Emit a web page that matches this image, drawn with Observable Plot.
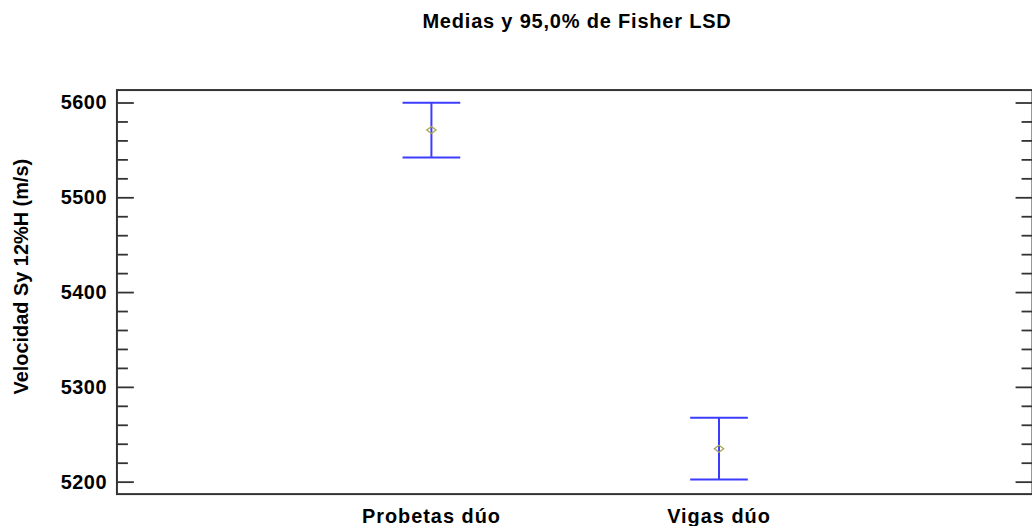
<!DOCTYPE html>
<html>
<head>
<meta charset="utf-8">
<script src="https://cdn.jsdelivr.net/npm/d3@7"></script>
<script src="https://cdn.jsdelivr.net/npm/@observablehq/plot@0.6"></script>
<style>
  html, body { margin: 0; padding: 0; overflow: hidden; background: #fff; }
  #wrap { position: relative; width: 1032px; height: 529px; overflow: hidden; }
  #title { position: absolute; left: 0; width: 1154px; top: 11px; text-align: center;
           font: bold 20px/20px "Liberation Sans", Arial, sans-serif; letter-spacing: 0.8px; color: #000; }
  #chart { position: absolute; left: 0; top: 0; }
  g[aria-label="x-axis tick label"] text { letter-spacing: 1px; }
  g[aria-label="y-axis tick label"] text { letter-spacing: 0.5px; }
</style>
</head>
<body>
<div id="wrap">
  <div id="chart"></div>
  <div id="title">Medias y 95,0% de Fisher LSD</div>
</div>
<script>
// ---- data ----
const title = "Medias y 95,0% de Fisher LSD";
const yLabel = "Velocidad Sy 12%H (m/s)";
const categories = ["Probetas dúo", "Vigas dúo"];
const means = [5571.5, 5235.3];
const lower = [5542.6, 5202.8];
const upper = [5600.3, 5267.9];
const yMajorTicks = [5200, 5300, 5400, 5500, 5600];
const yMinorTicks = [5220, 5240, 5260, 5280, 5320, 5340, 5360, 5380, 5420, 5440, 5460, 5480, 5520, 5540, 5560, 5580];

const rows = categories.map((c, i) => ({pos: i + 1, cat: c, mean: means[i], lo: lower[i], hi: upper[i]}));

// ---- custom symbols ----
const lineSym = (a, b) => ({draw(ctx) { ctx.moveTo(a, 0); ctx.lineTo(b, 0); }});
const capSym = lineSym(-29, 29);
const diamondSym = {draw(ctx) { ctx.moveTo(0, -3.5); ctx.lineTo(4.7, 0); ctx.lineTo(0, 3.5); ctx.lineTo(-4.7, 0); ctx.closePath(); }};

const blue = "#3c3cff";
const axisColor = "#333";
const tw = 1.8;

const chart = Plot.plot({
  width: 1037,
  height: 529,
  marginLeft: 117,
  marginRight: 0,
  marginTop: 90,
  marginBottom: 33,
  style: {fontFamily: "'Liberation Sans', Arial, sans-serif", background: "#fff", color: "#000"},
  x: {type: "linear", domain: [-0.0934, 3.09]},
  y: {domain: [5187.4, 5613.65]},
  marks: [
    Plot.frame({stroke: axisColor, strokeWidth: 2}),
    // inward ticks left
    Plot.dot(yMajorTicks, {y: d => d, frameAnchor: "left", symbol: lineSym(0, 17), r: 1, fill: "none", stroke: axisColor, strokeWidth: tw}),
    Plot.dot(yMinorTicks, {y: d => d, frameAnchor: "left", symbol: lineSym(0, 11), r: 1, fill: "none", stroke: axisColor, strokeWidth: tw}),
    // inward ticks right
    Plot.dot(yMajorTicks, {y: d => d, frameAnchor: "right", symbol: lineSym(-17, 0), r: 1, fill: "none", stroke: axisColor, strokeWidth: tw}),
    Plot.dot(yMinorTicks, {y: d => d, frameAnchor: "right", symbol: lineSym(-11, 0), r: 1, fill: "none", stroke: axisColor, strokeWidth: tw}),
    Plot.axisY({ticks: yMajorTicks, tickFormat: d3.format("d"), tickSize: 0, tickPadding: 10, label: null,
                fontSize: 20, fontWeight: "bold", fill: "#000"}),
    Plot.axisX({ticks: rows.map(r => r.pos), tickFormat: p => categories[p - 1], tickSize: 0, tickPadding: 15, label: null,
                fontSize: 20, fontWeight: "bold", fill: "#000"}),
    Plot.text([yLabel], {text: d => d, frameAnchor: "left", textAnchor: "middle", lineAnchor: "middle",
                         rotate: -90, dx: -96, dy: -15.5,
                         fontSize: 20, fontWeight: "bold", fill: "#000"}),
    // error bars
    Plot.ruleX(rows, {x: "pos", y1: "lo", y2: "hi", stroke: blue, strokeWidth: 2}),
    Plot.dot(rows, {x: "pos", y: "lo", symbol: capSym, r: 1, fill: "none", stroke: blue, strokeWidth: 2}),
    Plot.dot(rows, {x: "pos", y: "hi", symbol: capSym, r: 1, fill: "none", stroke: blue, strokeWidth: 2}),
    Plot.dot(rows, {x: "pos", y: "mean", symbol: diamondSym, r: 1, fill: "none", stroke: "#a8a650", strokeWidth: 1.3})
  ]
});
document.getElementById("chart").appendChild(chart);
</script>
</body>
</html>
